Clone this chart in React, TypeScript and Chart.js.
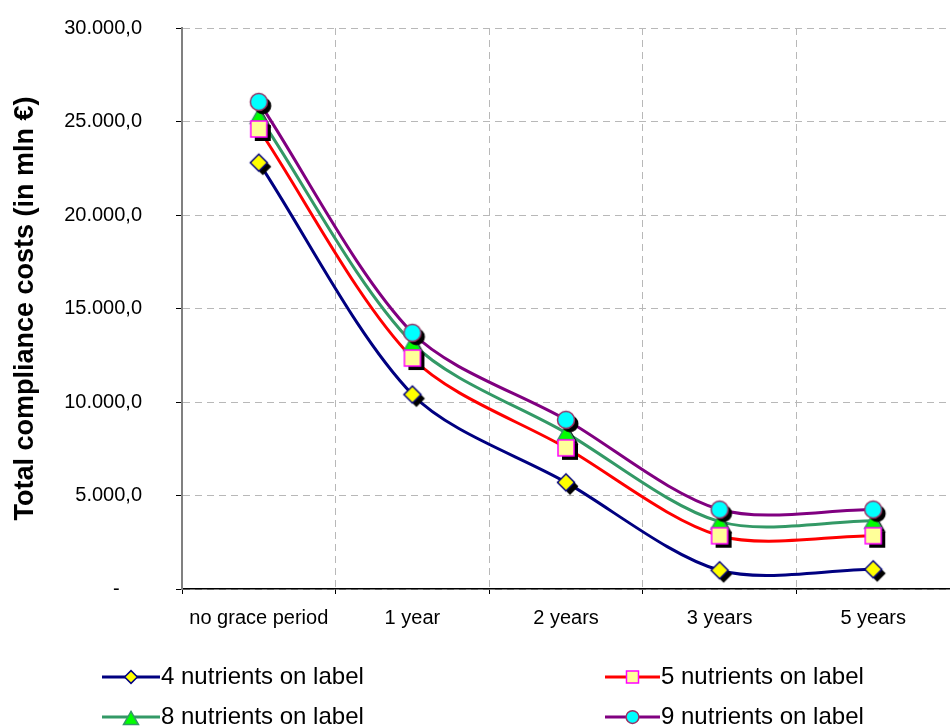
import React, { useEffect, useRef } from 'react';
import { Chart, registerables } from 'chart.js';

Chart.register(...registerables);

const categories = ['no grace period', '1 year', '2 years', '3 years', '5 years'];
const seriesNames = ['4 nutrients on label', '5 nutrients on label', '8 nutrients on label', '9 nutrients on label'];
const fourNutrients = [22800, 10400, 5700, 1000, 1050];
const fiveNutrients = [24600, 12350, 7550, 2850, 2850];
const eightNutrients = [25300, 13150, 8350, 3600, 3650];
const nineNutrients = [26050, 13700, 9050, 4250, 4250];
const yMin = 0;
const yMax = 30000;
const yStep = 5000;
const yTitle = 'Total compliance costs (in mln €)';

type Shape = 'diamond' | 'square' | 'triangle' | 'circle';
interface SeriesStyle { shape: Shape; line: string; fill: string; stroke: string; }

const seriesStyles: SeriesStyle[] = [
  { shape: 'diamond', line: '#000080', fill: '#FFFF00', stroke: '#000080' },
  { shape: 'square', line: '#FF0000', fill: '#FFFF99', stroke: '#FF00FF' },
  { shape: 'triangle', line: '#339966', fill: '#00FF00', stroke: '#339966' },
  { shape: 'circle', line: '#800080', fill: '#00FFFF', stroke: '#993366' },
];

const FONT = "'Liberation Sans', Arial, sans-serif";

function pathShape(ctx: CanvasRenderingContext2D, shape: Shape, cx: number, cy: number, s: number) {
  ctx.beginPath();
  if (shape === 'diamond') {
    const r = 8.5 * s;
    ctx.moveTo(cx, cy - r);
    ctx.lineTo(cx + r, cy);
    ctx.lineTo(cx, cy + r);
    ctx.lineTo(cx - r, cy);
    ctx.closePath();
  } else if (shape === 'square') {
    const h = 8 * s;
    ctx.rect(cx - h, cy - h, 2 * h, 2 * h);
  } else if (shape === 'triangle') {
    const w = 8.5 * s;
    const h = 7.5 * s;
    ctx.moveTo(cx, cy - h);
    ctx.lineTo(cx + w, cy + h);
    ctx.lineTo(cx - w, cy + h);
    ctx.closePath();
  } else {
    ctx.arc(cx, cy, 8.5 * s, 0, Math.PI * 2);
  }
}

function drawMarker(ctx: CanvasRenderingContext2D, st: SeriesStyle, cx: number, cy: number, s: number, shadow: boolean) {
  if (shadow) {
    pathShape(ctx, st.shape, cx + 4, cy + 4, s);
    ctx.fillStyle = '#000000';
    ctx.fill();
  }
  pathShape(ctx, st.shape, cx, cy, s);
  ctx.fillStyle = st.fill;
  ctx.fill();
  ctx.lineWidth = 1.5;
  ctx.strokeStyle = st.stroke;
  ctx.stroke();
}

function makeMarkerImage(st: SeriesStyle): HTMLCanvasElement {
  const c = document.createElement('canvas');
  c.width = 36;
  c.height = 36;
  const ctx = c.getContext('2d')!;
  drawMarker(ctx, st, 18, 18, 1, true);
  return c;
}

function formatTick(v: number): string {
  if (v === 0) return '-    ';
  const s = Math.round(v).toString().replace(/\B(?=(\d{3})+(?!\d))/g, '.');
  return s + ',0';
}

const legendPlugin = {
  id: 'excelLegend',
  afterDraw(chart: any) {
    const ctx: CanvasRenderingContext2D = chart.ctx;
    const slots = [
      { x0: 102, x1: 160, y: 677 },
      { x0: 605, x1: 660, y: 677 },
      { x0: 102, x1: 160, y: 717 },
      { x0: 605, x1: 660, y: 717 },
    ];
    ctx.save();
    seriesNames.forEach((name, i) => {
      const st = seriesStyles[i];
      const sl = slots[i];
      ctx.beginPath();
      ctx.moveTo(sl.x0, sl.y);
      ctx.lineTo(sl.x1, sl.y);
      ctx.lineWidth = 3;
      ctx.strokeStyle = st.line;
      ctx.stroke();
      const mx = (sl.x0 + sl.x1) / 2;
      const scale = st.shape === 'triangle' ? 0.88 : 0.75;
      drawMarker(ctx, st, mx, sl.y + (st.shape === 'triangle' ? 1 : 0), scale, false);
      ctx.fillStyle = '#000000';
      ctx.font = `24px ${FONT}`;
      ctx.textBaseline = 'middle';
      ctx.textAlign = 'left';
      ctx.fillText(name, sl.x1 + 1, sl.y);
    });
    ctx.restore();
  },
};

export default function App() {
  const ref = useRef<HTMLCanvasElement | null>(null);

  useEffect(() => {
    if (!ref.current) return;
    Chart.defaults.font.family = FONT;
    Chart.defaults.color = '#000000';
    const values = [fourNutrients, fiveNutrients, eightNutrients, nineNutrients];
    const pointOrder = [3, 1, 2, 0];
    const lineOrder = [13, 12, 11, 10];
    const lineSets = values.map((data, i) => ({
      label: seriesNames[i],
      data,
      borderColor: seriesStyles[i].line,
      backgroundColor: seriesStyles[i].line,
      borderWidth: 3,
      tension: 0.3,
      pointRadius: 0,
      fill: false,
      order: lineOrder[i],
    }));
    const pointSets = values.map((data, i) => ({
      label: seriesNames[i] + ' markers',
      data,
      showLine: false,
      pointStyle: makeMarkerImage(seriesStyles[i]),
      pointRadius: 9,
      borderColor: seriesStyles[i].stroke,
      backgroundColor: seriesStyles[i].fill,
      order: pointOrder[i],
    }));

    const chart = new Chart(ref.current, {
      type: 'line',
      data: { labels: categories, datasets: [...lineSets, ...pointSets] as any },
      options: {
        responsive: false,
        animation: false,
        events: [],
        layout: { padding: { top: 28, right: 2, left: 0, bottom: 0 } },
        plugins: {
          legend: { display: false },
          tooltip: { enabled: false },
        },
        scales: {
          x: {
            type: 'category',
            offset: true,
            grid: {
              offset: true,
              color: '#B8B8B8',
              lineWidth: 1,
              tickLength: 5,
              tickColor: '#000000',
              tickWidth: 1,
            },
            border: { display: true, color: '#000000', width: 1.5, dash: [7, 5] },
            ticks: { font: { size: 20 }, color: '#000000', padding: 12, maxRotation: 0, autoSkip: false },
            afterFit: (s: any) => { s.height = 137; s.paddingLeft = 0; s.paddingRight = 0; },
          },
          y: {
            min: yMin,
            max: yMax,
            ticks: {
              stepSize: yStep,
              font: { size: 20 },
              color: '#000000',
              padding: 34,
              callback: (v: any) => formatTick(Number(v)),
            },
            grid: {
              color: '#B8B8B8',
              lineWidth: 1,
              tickLength: 6,
              tickColor: '#000000',
              tickWidth: 1,
            },
            border: { display: true, color: '#808080', width: 2, dash: [7, 5] },
            title: {
              display: true,
              text: yTitle,
              font: { size: 27, weight: 'bold' },
              color: '#000000',
              padding: { top: 9, bottom: 0 },
            },
            afterFit: (s: any) => { s.width = 182; s.paddingTop = 0; s.paddingBottom = 0; },
          },
        },
      },
      plugins: [legendPlugin],
    });
    return () => chart.destroy();
  }, []);

  return (
    <div style={{ position: 'absolute', left: 0, top: 0, width: 950, height: 726, overflow: 'hidden', background: '#fff' }}>
      <canvas ref={ref} width={960} height={726} style={{ display: 'block' }} />
    </div>
  );
}
